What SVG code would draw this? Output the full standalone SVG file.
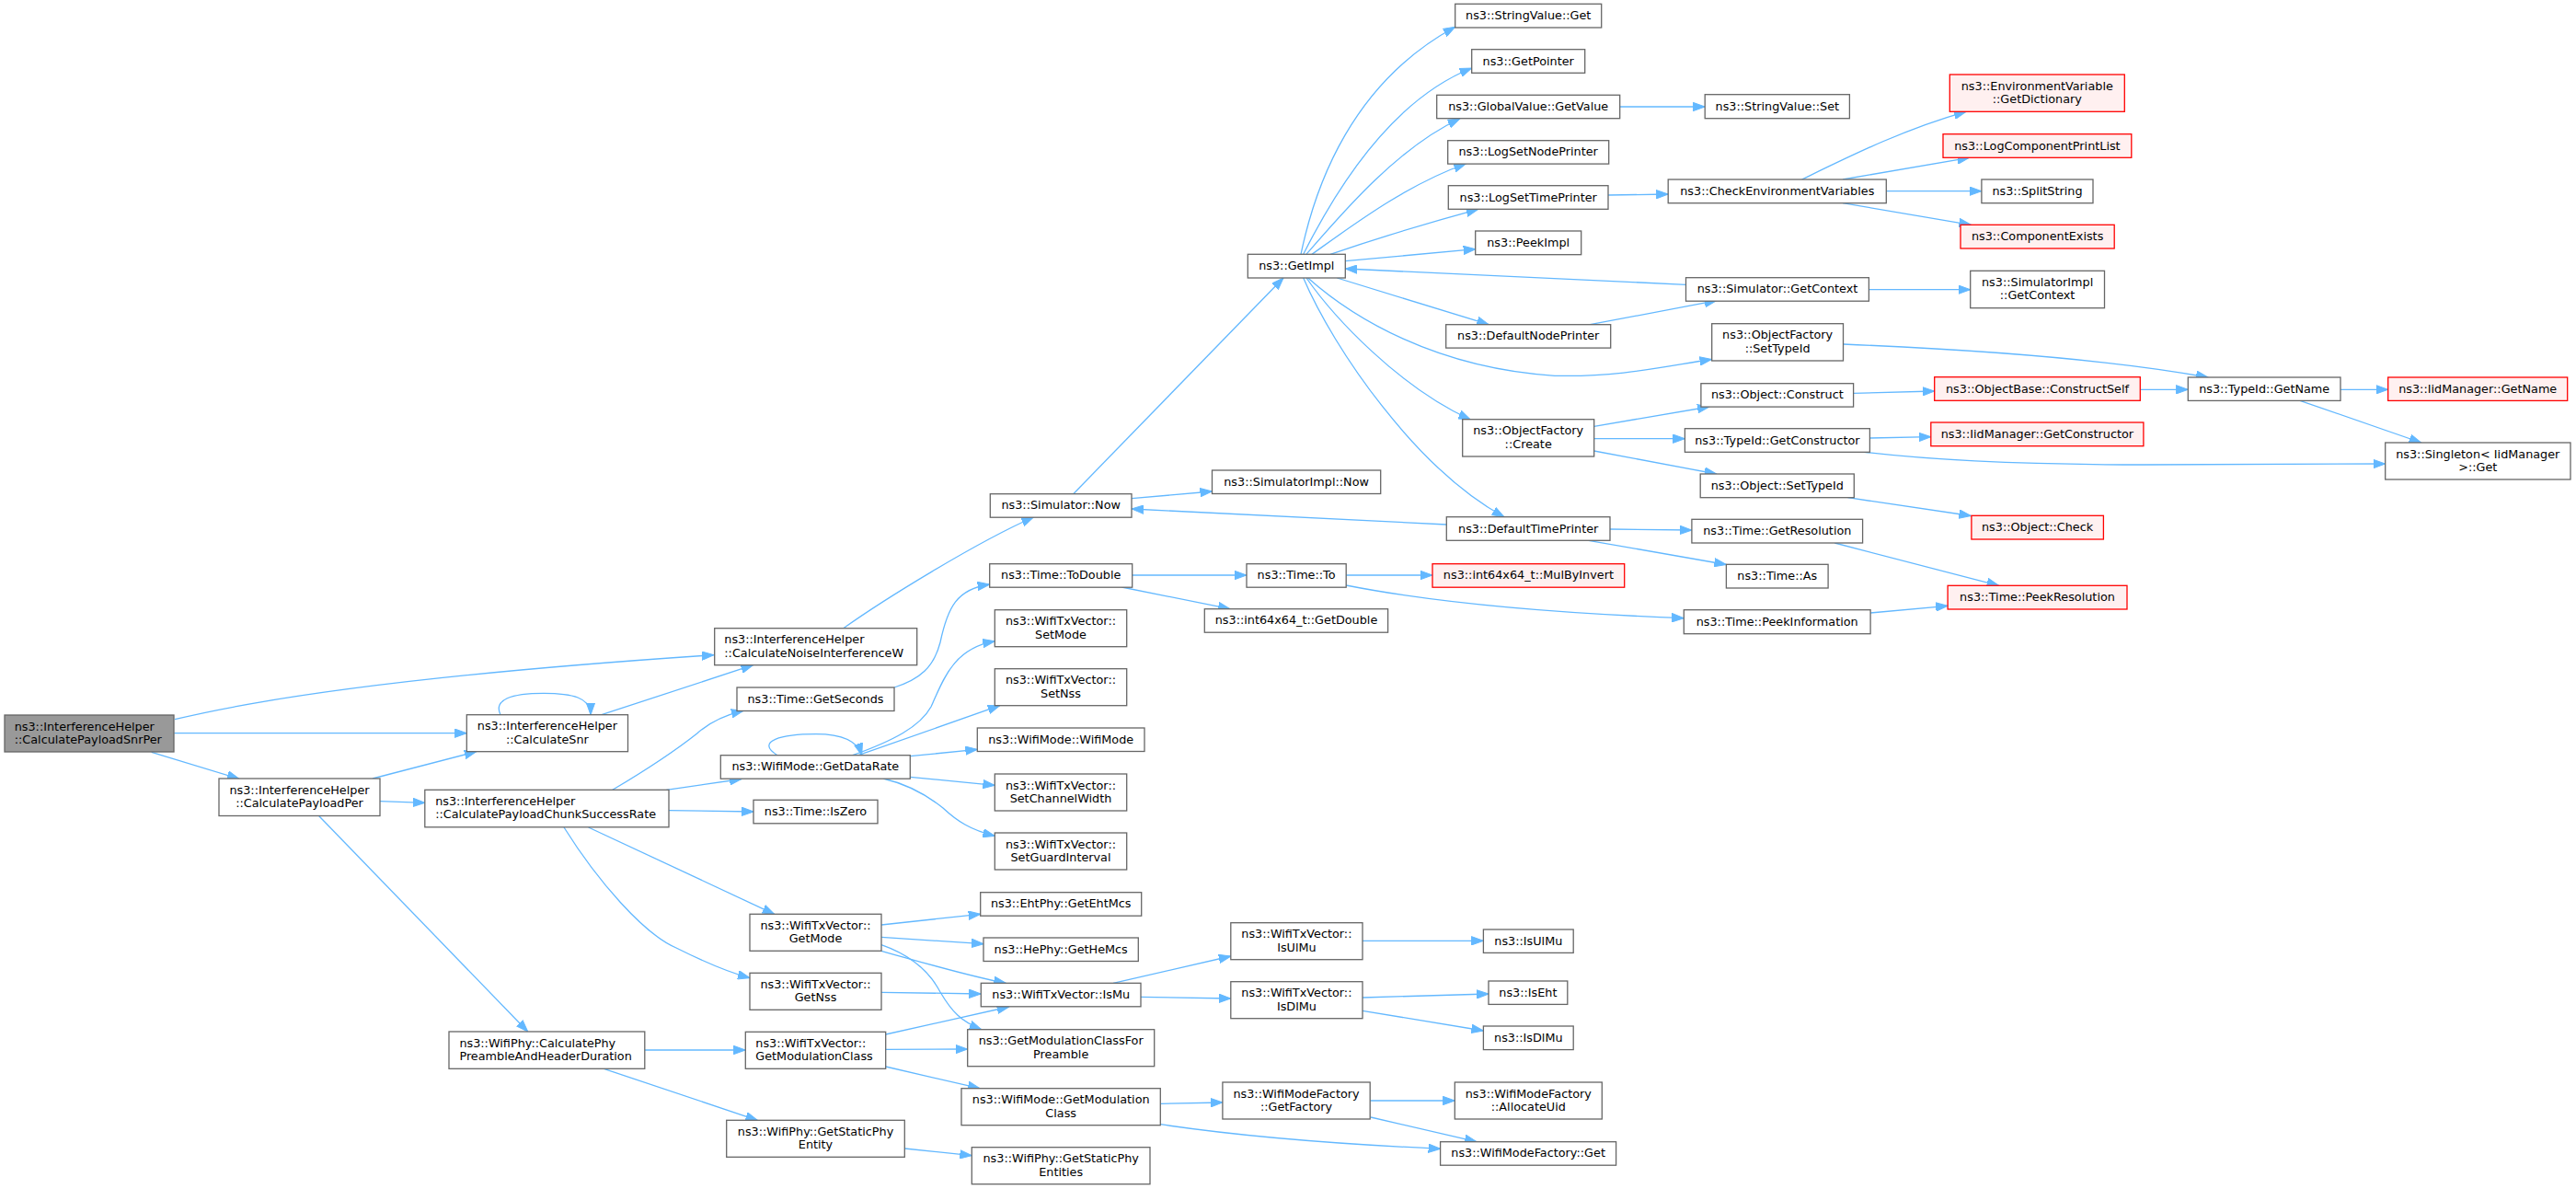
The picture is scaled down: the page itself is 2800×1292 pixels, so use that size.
<svg xmlns="http://www.w3.org/2000/svg" width="2800" height="1292" viewBox="0 0 2800 1292">
<defs>
<style>
rect{fill:#ffffff;stroke:#666666;stroke-width:1.3}
.root rect{fill:#999999}
.red rect{fill:#fff0f0;stroke:#ff0000}
text{font-family:"DejaVu Sans","Liberation Sans",sans-serif;font-size:12.8px;fill:#000000}
.c{text-anchor:middle}
#edges path{fill:none;stroke:#63b8ff;stroke-width:1.3;marker-end:url(#a)}
</style>
<marker id="a" markerUnits="userSpaceOnUse" markerWidth="14" markerHeight="10" viewBox="0 0 14 10" refX="13" refY="5" orient="auto"><path d="M0,0.3 L13,5 L0,9.7 z" fill="#63b8ff" stroke="#63b8ff" stroke-width="1"/></marker>
</defs>
<rect x="0" y="0" width="2800" height="1292" style="fill:#ffffff;stroke:none"/>
<g id="edges">
<path d="M190,781.7 C330,748 560,726 776,711.7"/>
<path d="M189.3,796.7 L507.3,796.7"/>
<path d="M164.7,817.3 L260,846.3"/>
<path d="M544,776.7 C536,760 556,753.3 591,753.3 C622,753.3 642,758 642,776.7"/>
<path d="M653.8,776.7 L818.5,722.7"/>
<path d="M405,846 L517.8,816.7"/>
<path d="M413,870.7 L461.8,872.3"/>
<path d="M346.8,886.7 L573.7,1121"/>
<path d="M665.8,858.3 C705,835 735,815 758,796.7 C772,784 788,777 808,772.3"/>
<path d="M724.4,858.3 L806,846.5"/>
<path d="M727,880.7 L819,882"/>
<path d="M639.6,899 L841.7,993.3"/>
<path d="M613,899 C650,958 700,1015 735,1030 C765,1045 790,1056 815,1062.7"/>
<path d="M700.8,1141 L810.3,1141"/>
<path d="M656.4,1161.3 L823.3,1217.3"/>
<path d="M916.7,682.7 C960,652 1060,590 1123.3,562"/>
<path d="M972,747 C1000,738 1015,725 1022,698 C1030,660 1040,640 1075.7,635"/>
<path d="M845,820.7 C820,805 850,797.7 887,797.7 C915,797.7 932,805 936.7,820.7"/>
<path d="M926.7,820.7 C970,805 1000,790 1012,768 C1025,740 1035,705 1081.3,696.7"/>
<path d="M933,820.7 L1086.7,766.7"/>
<path d="M989.3,821.7 L1062.3,814.3"/>
<path d="M989.3,844.3 L1081.3,853.3"/>
<path d="M960,846 C990,853 1010,866 1025,878 C1040,892 1055,902 1081.3,908.3"/>
<path d="M958,1005 L1065.7,993.3"/>
<path d="M958,1018.3 L1069,1025.7"/>
<path d="M958,1033.3 C1000,1045 1050,1060 1093.3,1068.3"/>
<path d="M958,1026.7 C990,1038 1010,1055 1022,1078 C1035,1100 1045,1110 1066.7,1118.7"/>
<path d="M958,1078.3 L1066.3,1080"/>
<path d="M962.7,1124 L1096.7,1094"/>
<path d="M962.7,1140.3 L1051.7,1140"/>
<path d="M962.7,1159 L1065,1182.7"/>
<path d="M983.3,1248 L1056.3,1255.7"/>
<path d="M1261.3,1199.3 L1328.9,1198"/>
<path d="M1261.3,1221.7 C1350,1235 1450,1243 1565.6,1248.3"/>
<path d="M1210,1068.3 L1337.8,1039"/>
<path d="M1240,1083.3 L1337.8,1085"/>
<path d="M1481,1022.3 L1612.4,1022.3"/>
<path d="M1481,1084 L1618,1080"/>
<path d="M1481,1098.3 L1612.4,1120"/>
<path d="M1489.2,1196 L1581.3,1196"/>
<path d="M1490,1214 L1605,1240.7"/>
<path d="M1230,541.7 L1317.5,534"/>
<path d="M1572.3,570 L1230,553"/>
<path d="M1230.7,625 L1355,625"/>
<path d="M1219.3,638 L1337,661.7"/>
<path d="M1463.2,625 L1557,625"/>
<path d="M1463.2,636 C1560,655 1680,666 1830.3,671.7"/>
<path d="M1166.7,536.7 L1395,302"/>
<path d="M1414,276.3 C1430,200 1470,90 1581.7,29.3"/>
<path d="M1416.7,276.3 C1450,210 1510,110 1599.7,74"/>
<path d="M1420,276.3 C1460,230 1520,160 1586.7,129"/>
<path d="M1426,276.3 C1470,245 1530,200 1593.3,178"/>
<path d="M1446,276.3 C1500,258 1560,240 1606.7,227.3"/>
<path d="M1462.3,283.7 L1603.7,270.7"/>
<path d="M1832.5,309.3 L1462.3,292"/>
<path d="M1453.3,302 L1618.3,352.7"/>
<path d="M1421.7,302 C1470,345 1560,400 1690,408.3 C1760,410 1810,398 1860.5,390.5"/>
<path d="M1420,302 C1450,345 1520,420 1598.3,456"/>
<path d="M1416.7,302 C1450,380 1540,510 1635,561.7"/>
<path d="M1728.3,352.7 L1865.7,326.7"/>
<path d="M1760.7,116 L1853.2,116"/>
<path d="M1748,212 L1813.2,211"/>
<path d="M1958.6,195 C2010,170 2070,140 2137,121.3"/>
<path d="M2003,195 L2140.6,171.3"/>
<path d="M2050.3,207.7 L2153.9,207.7"/>
<path d="M2003,220.7 L2142.4,244.3"/>
<path d="M2031.4,314.7 L2141.7,314.7"/>
<path d="M2003.5,374 C2150,380 2290,390 2400,410"/>
<path d="M1732.7,463.3 L1858,442"/>
<path d="M1732.7,476.7 L1831.4,476.7"/>
<path d="M1732.7,490 L1865.7,515"/>
<path d="M2014.6,427.3 L2102.7,425"/>
<path d="M2032.4,476 L2098.8,474.7"/>
<path d="M2026.3,491.3 C2100,500 2200,505 2330,505 L2592.7,504"/>
<path d="M2008.5,540.7 L2142.4,560.5"/>
<path d="M1750,575 L1838.9,576"/>
<path d="M1726.7,587.3 L1876.4,613.5"/>
<path d="M1994.2,590 L2172.7,636.3"/>
<path d="M2033.1,666 L2117.1,658.3"/>
<path d="M2326.3,423.3 L2378.3,423.3"/>
<path d="M2544,423.3 L2595.7,423.3"/>
<path d="M2500,435.3 L2631.7,481"/>
</g>
<g id="n_root" class="root"><rect x="5" y="777" width="184" height="40"/><text x="15.7" y="793.5">ns3::InterferenceHelper</text><text x="15.7" y="808">::CalculatePayloadSnrPer</text></g>
<g id="n_noise"><rect x="776.7" y="682.7" width="220" height="40"/><text x="787.3" y="699.2">ns3::InterferenceHelper</text><text x="787.3" y="713.7">::CalculateNoiseInterferenceW</text></g>
<g id="n_snr"><rect x="507.3" y="776.7" width="175.2" height="40"/><text class="c" x="594.9" y="793.2">ns3::InterferenceHelper</text><text class="c" x="594.9" y="807.7">::CalculateSnr</text></g>
<g id="n_per"><rect x="238" y="846" width="175" height="40.5"/><text class="c" x="325.5" y="862.5">ns3::InterferenceHelper</text><text class="c" x="325.5" y="877">::CalculatePayloadPer</text></g>
<g id="n_chunk"><rect x="461.8" y="858.3" width="265.2" height="40.5"/><text x="473.2" y="874.8">ns3::InterferenceHelper</text><text x="473.2" y="889.3">::CalculatePayloadChunkSuccessRate</text></g>
<g id="n_phydur"><rect x="488" y="1121" width="212.8" height="40.3"/><text x="499.4" y="1137.5">ns3::WifiPhy::CalculatePhy</text><text x="499.4" y="1152">PreambleAndHeaderDuration</text></g>
<g id="n_simnow"><rect x="1076.3" y="536.7" width="153.7" height="25.5"/><text class="c" x="1153.2" y="553.4">ns3::Simulator::Now</text></g>
<g id="n_todouble"><rect x="1075.7" y="612.7" width="155" height="25.5"/><text class="c" x="1153.2" y="629.4">ns3::Time::ToDouble</text></g>
<g id="n_getseconds"><rect x="801" y="747" width="171" height="25.5"/><text class="c" x="886.5" y="763.7">ns3::Time::GetSeconds</text></g>
<g id="n_getdatarate"><rect x="783.3" y="820.7" width="206" height="25.5"/><text class="c" x="886.3" y="837.4">ns3::WifiMode::GetDataRate</text></g>
<g id="n_iszero"><rect x="819" y="869.3" width="135" height="25.5"/><text class="c" x="886.5" y="886">ns3::Time::IsZero</text></g>
<g id="n_getmode"><rect x="815" y="993.3" width="143" height="40"/><text class="c" x="886.5" y="1009.8">ns3::WifiTxVector::</text><text class="c" x="886.5" y="1024.3">GetMode</text></g>
<g id="n_getnss"><rect x="815" y="1057.3" width="143" height="40"/><text class="c" x="886.5" y="1073.8">ns3::WifiTxVector::</text><text class="c" x="886.5" y="1088.3">GetNss</text></g>
<g id="n_getmodclass"><rect x="810.3" y="1121.3" width="152.4" height="40"/><text x="821.3" y="1137.8">ns3::WifiTxVector::</text><text x="821.3" y="1152.3">GetModulationClass</text></g>
<g id="n_staticphyentity"><rect x="789.7" y="1217.3" width="193.6" height="40"/><text class="c" x="886.5" y="1233.8">ns3::WifiPhy::GetStaticPhy</text><text class="c" x="886.5" y="1248.3">Entity</text></g>
<g id="n_setmode"><rect x="1081.3" y="662.7" width="143.4" height="40"/><text class="c" x="1153" y="679.2">ns3::WifiTxVector::</text><text class="c" x="1153" y="693.7">SetMode</text></g>
<g id="n_setnss"><rect x="1081.3" y="726.7" width="143.4" height="40"/><text class="c" x="1153" y="743.2">ns3::WifiTxVector::</text><text class="c" x="1153" y="757.7">SetNss</text></g>
<g id="n_wifimode"><rect x="1062.3" y="791" width="181.7" height="25.5"/><text class="c" x="1153.2" y="807.7">ns3::WifiMode::WifiMode</text></g>
<g id="n_setchw"><rect x="1081.3" y="841" width="143.4" height="40"/><text class="c" x="1153" y="857.5">ns3::WifiTxVector::</text><text class="c" x="1153" y="872">SetChannelWidth</text></g>
<g id="n_setgi"><rect x="1081.3" y="905" width="143.4" height="40"/><text class="c" x="1153" y="921.5">ns3::WifiTxVector::</text><text class="c" x="1153" y="936">SetGuardInterval</text></g>
<g id="n_ehtmcs"><rect x="1065.7" y="969.7" width="175" height="25.5"/><text class="c" x="1153.2" y="986.4">ns3::EhtPhy::GetEhtMcs</text></g>
<g id="n_hemcs"><rect x="1069" y="1019" width="168.3" height="25.5"/><text class="c" x="1153.2" y="1035.7">ns3::HePhy::GetHeMcs</text></g>
<g id="n_ismu"><rect x="1066.3" y="1068.3" width="173.7" height="25.5"/><text class="c" x="1153.2" y="1085">ns3::WifiTxVector::IsMu</text></g>
<g id="n_modclasspre"><rect x="1051.7" y="1118.7" width="203" height="40"/><text class="c" x="1153.2" y="1135.2">ns3::GetModulationClassFor</text><text class="c" x="1153.2" y="1149.7">Preamble</text></g>
<g id="n_wmmodclass"><rect x="1045" y="1182.7" width="216.3" height="40"/><text class="c" x="1153.2" y="1199.2">ns3::WifiMode::GetModulation</text><text class="c" x="1153.2" y="1213.7">Class</text></g>
<g id="n_staticphyentities"><rect x="1056.3" y="1246.7" width="193.7" height="40"/><text class="c" x="1153.2" y="1263.2">ns3::WifiPhy::GetStaticPhy</text><text class="c" x="1153.2" y="1277.7">Entities</text></g>
<g id="n_simimplnow"><rect x="1317.5" y="511" width="183.2" height="25.5"/><text class="c" x="1409.1" y="527.7">ns3::SimulatorImpl::Now</text></g>
<g id="n_timeto"><rect x="1355" y="612.7" width="108.2" height="25.5"/><text class="c" x="1409.1" y="629.4">ns3::Time::To</text></g>
<g id="n_getdouble"><rect x="1309.3" y="661.7" width="199.3" height="25.5"/><text class="c" x="1409" y="678.4">ns3::int64x64_t::GetDouble</text></g>
<g id="n_wtvisulmu"><rect x="1337.8" y="1002.7" width="143.2" height="40"/><text class="c" x="1409.4" y="1019.2">ns3::WifiTxVector::</text><text class="c" x="1409.4" y="1033.7">IsUlMu</text></g>
<g id="n_wtvisdlmu"><rect x="1337.8" y="1066.7" width="143.2" height="40"/><text class="c" x="1409.4" y="1083.2">ns3::WifiTxVector::</text><text class="c" x="1409.4" y="1097.7">IsDlMu</text></g>
<g id="n_getfactory"><rect x="1328.9" y="1176" width="160.3" height="40"/><text class="c" x="1409" y="1192.5">ns3::WifiModeFactory</text><text class="c" x="1409" y="1207">::GetFactory</text></g>
<g id="n_getimpl"><rect x="1356.3" y="276.3" width="106" height="25.7"/><text class="c" x="1409.3" y="293.1">ns3::GetImpl</text></g>
<g id="n_svget"><rect x="1581.7" y="4.3" width="159" height="25.7"/><text class="c" x="1661.2" y="21.1">ns3::StringValue::Get</text></g>
<g id="n_getpointer"><rect x="1599.7" y="53.7" width="123" height="25.6"/><text class="c" x="1661.2" y="70.5">ns3::GetPointer</text></g>
<g id="n_gvgetvalue"><rect x="1561.7" y="103.3" width="199" height="25.4"/><text class="c" x="1661.2" y="120">ns3::GlobalValue::GetValue</text></g>
<g id="n_lognode"><rect x="1573.7" y="152.7" width="175" height="25.4"/><text class="c" x="1661.2" y="169.4">ns3::LogSetNodePrinter</text></g>
<g id="n_logtime"><rect x="1574.3" y="201.7" width="173.7" height="25.6"/><text class="c" x="1661.2" y="218.5">ns3::LogSetTimePrinter</text></g>
<g id="n_peekimpl"><rect x="1603.7" y="251" width="115" height="25.7"/><text class="c" x="1661.2" y="267.8">ns3::PeekImpl</text></g>
<g id="n_defnode"><rect x="1571.7" y="352.7" width="179" height="25.4"/><text class="c" x="1661.2" y="369.4">ns3::DefaultNodePrinter</text></g>
<g id="n_ofcreate"><rect x="1589.7" y="455.7" width="143" height="40.3"/><text class="c" x="1661.2" y="472.2">ns3::ObjectFactory</text><text class="c" x="1661.2" y="486.7">::Create</text></g>
<g id="n_deftime"><rect x="1572.3" y="561.7" width="177.7" height="25.6"/><text class="c" x="1661.2" y="578.5">ns3::DefaultTimePrinter</text></g>
<g id="n_mulbyinv" class="red"><rect x="1557" y="612.7" width="208.7" height="25.5"/><text class="c" x="1661.4" y="629.4">ns3::int64x64_t::MulByInvert</text></g>
<g id="n_svset"><rect x="1853.2" y="102.7" width="157.2" height="26"/><text class="c" x="1931.8" y="119.6">ns3::StringValue::Set</text></g>
<g id="n_checkenv"><rect x="1813.2" y="195" width="237.1" height="25.7"/><text class="c" x="1931.8" y="211.8">ns3::CheckEnvironmentVariables</text></g>
<g id="n_simgetctx"><rect x="1832.5" y="301.7" width="198.9" height="25.5"/><text class="c" x="1932" y="318.4">ns3::Simulator::GetContext</text></g>
<g id="n_ofsettypeid"><rect x="1860.7" y="351.7" width="142.8" height="40.3"/><text class="c" x="1932.1" y="368.2">ns3::ObjectFactory</text><text class="c" x="1932.1" y="382.7">::SetTypeId</text></g>
<g id="n_objconstruct"><rect x="1848.9" y="416.7" width="165.7" height="25.4"/><text class="c" x="1931.8" y="433.4">ns3::Object::Construct</text></g>
<g id="n_tidgetctor"><rect x="1831.4" y="465.7" width="201" height="25.6"/><text class="c" x="1931.9" y="482.5">ns3::TypeId::GetConstructor</text></g>
<g id="n_objsettypeid"><rect x="1848.2" y="515" width="167.1" height="25.7"/><text class="c" x="1931.8" y="531.8">ns3::Object::SetTypeId</text></g>
<g id="n_getres"><rect x="1838.9" y="564.3" width="185.7" height="25.7"/><text class="c" x="1931.8" y="581.1">ns3::Time::GetResolution</text></g>
<g id="n_timeas"><rect x="1876.4" y="613.3" width="110.7" height="25.7"/><text class="c" x="1931.8" y="630.1">ns3::Time::As</text></g>
<g id="n_peekinfo"><rect x="1830.3" y="662.7" width="202.8" height="26"/><text class="c" x="1931.7" y="679.6">ns3::Time::PeekInformation</text></g>
<g id="n_envdict" class="red"><rect x="2119.3" y="81" width="190" height="40.3"/><text class="c" x="2214.3" y="97.5">ns3::EnvironmentVariable</text><text class="c" x="2214.3" y="112">::GetDictionary</text></g>
<g id="n_logcomp" class="red"><rect x="2112" y="145.7" width="204.8" height="25.6"/><text class="c" x="2214.4" y="162.5">ns3::LogComponentPrintList</text></g>
<g id="n_splitstring"><rect x="2153.9" y="195" width="121.1" height="25.7"/><text class="c" x="2214.5" y="211.8">ns3::SplitString</text></g>
<g id="n_compexists" class="red"><rect x="2131" y="244.3" width="167.2" height="25.7"/><text class="c" x="2214.6" y="261.1">ns3::ComponentExists</text></g>
<g id="n_simimplctx"><rect x="2141.7" y="294.3" width="145.8" height="40.4"/><text class="c" x="2214.6" y="310.8">ns3::SimulatorImpl</text><text class="c" x="2214.6" y="325.3">::GetContext</text></g>
<g id="n_constructself" class="red"><rect x="2102.7" y="409.7" width="223.6" height="25.6"/><text class="c" x="2214.5" y="426.5">ns3::ObjectBase::ConstructSelf</text></g>
<g id="n_iidgetctor" class="red"><rect x="2098.8" y="459" width="231.1" height="25.7"/><text class="c" x="2214.4" y="475.8">ns3::IidManager::GetConstructor</text></g>
<g id="n_objcheck" class="red"><rect x="2142.9" y="560.3" width="143.5" height="25.7"/><text class="c" x="2214.6" y="577.1">ns3::Object::Check</text></g>
<g id="n_peekres" class="red"><rect x="2117.1" y="636.3" width="194.9" height="25.7"/><text class="c" x="2214.5" y="653.1">ns3::Time::PeekResolution</text></g>
<g id="n_tidgetname"><rect x="2378.3" y="410" width="165.7" height="25.4"/><text class="c" x="2461.2" y="426.7">ns3::TypeId::GetName</text></g>
<g id="n_iidgetname" class="red"><rect x="2595.7" y="410" width="195" height="25.4"/><text class="c" x="2693.2" y="426.7">ns3::IidManager::GetName</text></g>
<g id="n_singleton"><rect x="2592.7" y="481" width="201.3" height="40"/><text class="c" x="2693.3" y="497.5">ns3::Singleton&lt; IidManager</text><text class="c" x="2693.3" y="512">&gt;::Get</text></g>
<g id="n_isulmu"><rect x="1612.4" y="1010" width="97.8" height="25.4"/><text class="c" x="1661.3" y="1026.7">ns3::IsUlMu</text></g>
<g id="n_iseht"><rect x="1618" y="1066" width="85.8" height="25.4"/><text class="c" x="1660.9" y="1082.7">ns3::IsEht</text></g>
<g id="n_isdlmu"><rect x="1612.4" y="1115" width="97.8" height="25.6"/><text class="c" x="1661.3" y="1131.8">ns3::IsDlMu</text></g>
<g id="n_allocuid"><rect x="1581.3" y="1176" width="160" height="40"/><text class="c" x="1661.3" y="1192.5">ns3::WifiModeFactory</text><text class="c" x="1661.3" y="1207">::AllocateUid</text></g>
<g id="n_wmfget"><rect x="1565.6" y="1240.7" width="191" height="25.5"/><text class="c" x="1661.1" y="1257.4">ns3::WifiModeFactory::Get</text></g>
</svg>
